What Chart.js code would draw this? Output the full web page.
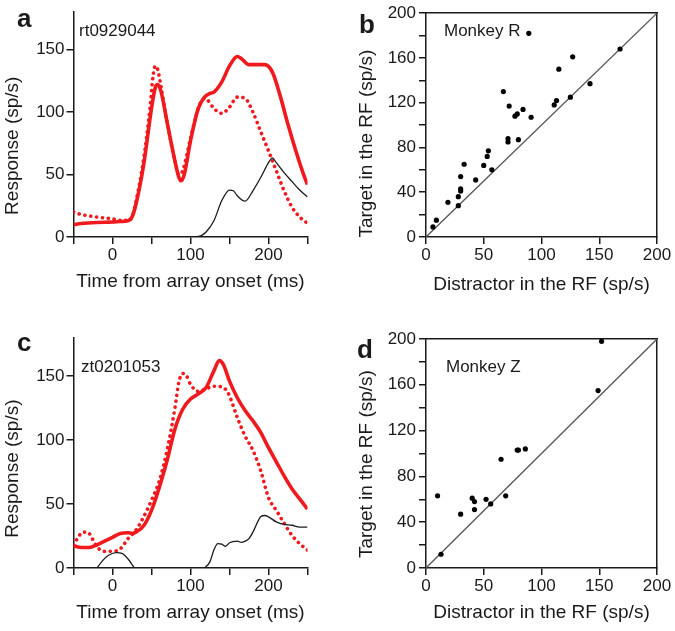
<!DOCTYPE html>
<html>
<head>
<meta charset="utf-8">
<script src="https://cdn.jsdelivr.net/npm/chart.js@4.4.1/dist/chart.umd.min.js"></script>
<style>
  body { margin: 0; background: #fff; width: 675px; height: 631px; overflow: hidden; position: relative;
         font-family: "Liberation Sans", Arial, sans-serif; color: #1a1a1a; }
  canvas { position: absolute; }
  .lbl { position: absolute; white-space: nowrap; }
  .panel { font-weight: bold; font-size: 26px; line-height: 26px; }
  .note { font-size: 17px; line-height: 17px; }
</style>
</head>
<body>
<canvas id="chartA" width="340" height="310" style="left:0;top:0"></canvas>
<canvas id="chartB" width="320" height="310" style="left:355px;top:0"></canvas>
<canvas id="chartC" width="340" height="306" style="left:0;top:325px"></canvas>
<canvas id="chartD" width="320" height="306" style="left:355px;top:325px"></canvas>

<div class="lbl panel" style="left:17px;top:5px">a</div>
<div class="lbl panel" style="left:359px;top:11px">b</div>
<div class="lbl panel" style="left:17px;top:329px">c</div>
<div class="lbl panel" style="left:357px;top:336px">d</div>
<div class="lbl note" style="left:79px;top:22px">rt0929044</div>
<div class="lbl note" style="left:81px;top:358px">zt0201053</div>
<div class="lbl note" style="left:444px;top:22px">Monkey R</div>
<div class="lbl note" style="left:446px;top:358px">Monkey Z</div>

<script>
// panel a, cell rt0929044 (response in sp/s against time from array onset in ms)
const aSolidTime = [-50, -40, -20, 0, 10, 20, 25, 30, 40, 50, 55, 58, 62, 70, 80, 85, 88, 92, 100, 110, 118, 125, 130, 140, 150, 160, 165, 175, 185, 195, 205, 215, 225, 235, 245, 250];
const aSolidRate = [10, 10.8, 11.6, 12, 12.4, 13, 16, 26, 58, 103, 120, 122, 117, 92, 61, 48, 45, 50, 77, 103, 112, 115, 116, 124, 137, 144.5, 143, 138, 138, 138, 132, 113, 90, 69, 50, 42];
const aDotTime = [-50, -40, -20, 0, 10, 20, 25, 30, 40, 48, 52, 55, 58, 62, 70, 80, 85, 90, 100, 110, 118, 122, 130, 140, 150, 160, 170, 180, 190, 200, 210, 220, 230, 240, 250];
const aDotRate = [20, 18, 16, 14.5, 13.4, 13.4, 16, 28, 63, 103, 129, 137, 134, 121, 92, 61, 50, 53, 79, 103, 111, 109.5, 103, 99, 104, 112, 111, 100, 84.5, 69, 53, 37, 24, 16, 11];
const aThinTime = [108, 115, 120, 130, 140, 150, 155, 160, 170, 180, 190, 200, 205, 210, 220, 230, 240, 250];
const aThinRate = [0, 1.5, 4, 13, 29, 37.6, 37, 33, 28.7, 37, 47.6, 59.5, 63.4, 59.5, 51.6, 44.5, 37.6, 32];

// panel c, cell zt0201053
const cSolidTime = [-50, -40, -30, -20, -10, 0, 10, 20, 25, 30, 40, 50, 60, 70, 80, 90, 100, 110, 120, 130, 137, 142, 150, 160, 170, 180, 190, 200, 210, 220, 230, 240, 250];
const cSolidRate = [17.4, 16, 16, 18, 21, 24, 27, 27.5, 27, 28, 33, 45, 63, 84, 108.5, 124, 132, 136, 141, 154, 162, 159, 146, 133, 123, 115, 106, 94, 83, 72, 62, 54, 46];
const cDotTime = [-50, -45, -38, -32, -25, -20, -10, 0, 10, 20, 30, 40, 50, 60, 70, 80, 85, 90, 95, 100, 110, 120, 130, 140, 148, 160, 170, 180, 190, 200, 210, 220, 230, 240, 250];
const cDotRate = [18, 23, 28, 28, 22, 16.6, 13, 13, 15, 23, 29.5, 40, 53, 68, 92, 125, 145, 152, 150, 143.5, 138, 140, 142, 141.5, 137, 117.6, 103, 92, 76, 55, 45, 35, 25.6, 19, 14];
const cThinTime = [-20, -15, -10, -5, 5, 12, 20, 28, null, 118, 125, 130, 135, 140, 145, 150, 160, 165, 170, 175, 180, 190, 195, 200, 210, 220, 230, 240, 250];
const cThinRate = [0, 4, 7.5, 10, 12, 11.5, 7, 0, null, 0, 5, 14, 19, 18.6, 17, 19.7, 21, 20, 21, 23, 28, 40, 41, 40, 36, 34, 33.4, 32, 32];

// panels b and d: one point per cell, distractor vs target in the RF (sp/s)
const monkeyRDistractor = [6, 9, 19, 28, 28, 30, 30, 30, 33, 43, 50, 53, 54, 57, 67, 72, 71, 71, 80, 77, 79, 84, 91, 89, 111, 113, 115, 127, 125, 142, 168];
const monkeyRTarget = [9, 15, 31, 28, 36, 41, 43, 54, 65, 51, 64, 72, 77, 60, 130, 117, 88, 85, 87, 108, 110, 114, 107, 182, 118, 122, 150, 161, 125, 137, 168];
const monkeyZDistractor = [10, 13, 30, 40, 42, 42, 52, 56, 69, 65, 79, 80, 86, 149, 152];
const monkeyZTarget = [63, 12, 47, 61, 58, 51, 60, 56, 63, 95, 103, 103, 104, 155, 198];
const identityLine = [0, 200];

// ticks
const timeTickLabels = [0, 100, 200];
const rateTickStep = 50;
const scatterXStep = 50;
const scatterYStep = 20;
const scatterYLabelEvery = 40;

const ink = '#1a1a1a';
const red = '#f0191e';
const tickFont = { family: '"Liberation Sans", Arial, sans-serif', size: 17 };
const titleFont = { family: '"Liberation Sans", Arial, sans-serif', size: 19 };

function pts(xs, ys) {
  return xs.map((x, i) => (x === null ? { x: NaN, y: null } : { x: x, y: ys[i] }));
}

function axisGrid() {
  return { display: true, drawOnChartArea: false, drawTicks: true, tickLength: 7,
           color: ink, tickColor: ink, lineWidth: 1.5 };
}

function timeChart(id, pad, xHeight, xTitlePad, yTitle, solid, dotted, thin) {
  return new Chart(document.getElementById(id), {
    type: 'line',
    data: {
      datasets: [
        { data: thin, borderColor: ink, borderWidth: 1.3, order: 0 },
        { data: solid, borderColor: red, borderWidth: 3.6, order: 1 },
        { data: dotted, borderColor: red, borderWidth: 3.6, borderDash: [0.1, 5.8],
          borderCapStyle: 'round', order: 2 }
      ]
    },
    options: {
      responsive: false,
      animation: false,
      devicePixelRatio: 1,
      spanGaps: false,
      layout: { padding: pad },
      plugins: { legend: { display: false }, tooltip: { enabled: false } },
      elements: { point: { radius: 0 }, line: { cubicInterpolationMode: 'monotone' } },
      scales: {
        x: {
          type: 'linear', min: -50, max: 250,
          ticks: { stepSize: 50, autoSkip: false, maxRotation: 0, padding: 1, color: ink, font: tickFont,
                   callback: v => (timeTickLabels.includes(v) ? v : '') },
          grid: axisGrid(),
          border: { color: ink, width: 1.5 },
          title: { display: true, text: 'Time from array onset (ms)', color: ink, font: titleFont,
                   padding: { top: 0, bottom: xTitlePad } },
          afterFit: s => { s.height = xHeight; }
        },
        y: {
          type: 'linear', min: 0, max: 180,
          ticks: { stepSize: rateTickStep, padding: 2, color: ink, font: tickFont },
          afterBuildTicks: s => { s.ticks = s.ticks.filter(t => t.value % rateTickStep === 0); },
          grid: axisGrid(),
          border: { color: ink, width: 1.5 },
          title: { display: true, text: yTitle, color: ink, font: titleFont, padding: { top: 1, bottom: 0 } },
          afterFit: s => { s.width = 73.5; }
        }
      }
    }
  });
}

function scatterChart(id, pad, xHeight, xTitlePad, yTitle, xs, ys) {
  return new Chart(document.getElementById(id), {
    type: 'scatter',
    data: {
      datasets: [
        { data: pts(xs, ys), pointRadius: 2.6, pointBackgroundColor: '#000', pointBorderWidth: 0, clip: false },
        { type: 'line', data: pts(identityLine, identityLine), borderColor: '#555', borderWidth: 1.3,
          pointRadius: 0, showLine: true }
      ]
    },
    options: {
      responsive: false,
      animation: false,
      devicePixelRatio: 1,
      layout: { padding: pad },
      plugins: { legend: { display: false }, tooltip: { enabled: false } },
      scales: {
        x: {
          type: 'linear', min: 0, max: 200,
          ticks: { stepSize: scatterXStep, autoSkip: false, maxRotation: 0, padding: 1, color: ink, font: tickFont },
          grid: axisGrid(),
          border: { color: ink, width: 1.5 },
          title: { display: true, text: 'Distractor in the RF (sp/s)', color: ink, font: titleFont,
                   padding: { top: 0, bottom: xTitlePad } },
          afterFit: s => { s.height = xHeight; }
        },
        y: {
          type: 'linear', min: 0, max: 200,
          ticks: { stepSize: scatterYStep, autoSkip: false, padding: 3, color: ink, font: tickFont,
                   callback: v => (v % scatterYLabelEvery === 0 ? v : '') },
          grid: axisGrid(),
          border: { color: ink, width: 1.5 },
          title: { display: true, text: yTitle, color: ink, font: titleFont,
                   padding: { top: 0, bottom: 0 } },
          afterFit: s => { s.width = 71; }
        },
        x2: {
          type: 'linear', position: 'top', min: 0, max: 200,
          ticks: { display: false }, grid: { display: false },
          border: { color: ink, width: 1.5 },
          afterFit: s => { s.height = 0; }
        },
        y2: {
          type: 'linear', position: 'right', min: 0, max: 200,
          ticks: { display: false }, grid: { display: false },
          border: { color: ink, width: 1.5 },
          afterFit: s => { s.width = 0; }
        }
      }
    }
  });
}

timeChart('chartA', { left: 0, top: 10, right: 32.5, bottom: 0 }, 73, 16.6,
  'Response (sp/s)' + ' '.repeat(8),
  pts(aSolidTime, aSolidRate), pts(aDotTime, aDotRate), pts(aThinTime, aThinRate));

timeChart('chartC', { left: 0, top: 12.6, right: 32.5, bottom: 0 }, 63, 6.6,
  'Response (sp/s)' + ' '.repeat(6),
  pts(cSolidTime, cSolidRate), pts(cDotTime, cDotRate), pts(cThinTime, cThinRate));

scatterChart('chartB', { left: 0, top: 9, right: 18, bottom: 0 }, 73, 13.6,
  'Target in the RF (sp/s)' + ' '.repeat(7), monkeyRDistractor, monkeyRTarget);
scatterChart('chartD', { left: 0, top: 14, right: 18, bottom: 0 }, 63, 6.6,
  'Target in the RF (sp/s)' + ' '.repeat(4), monkeyZDistractor, monkeyZTarget);
</script>
</body>
</html>
